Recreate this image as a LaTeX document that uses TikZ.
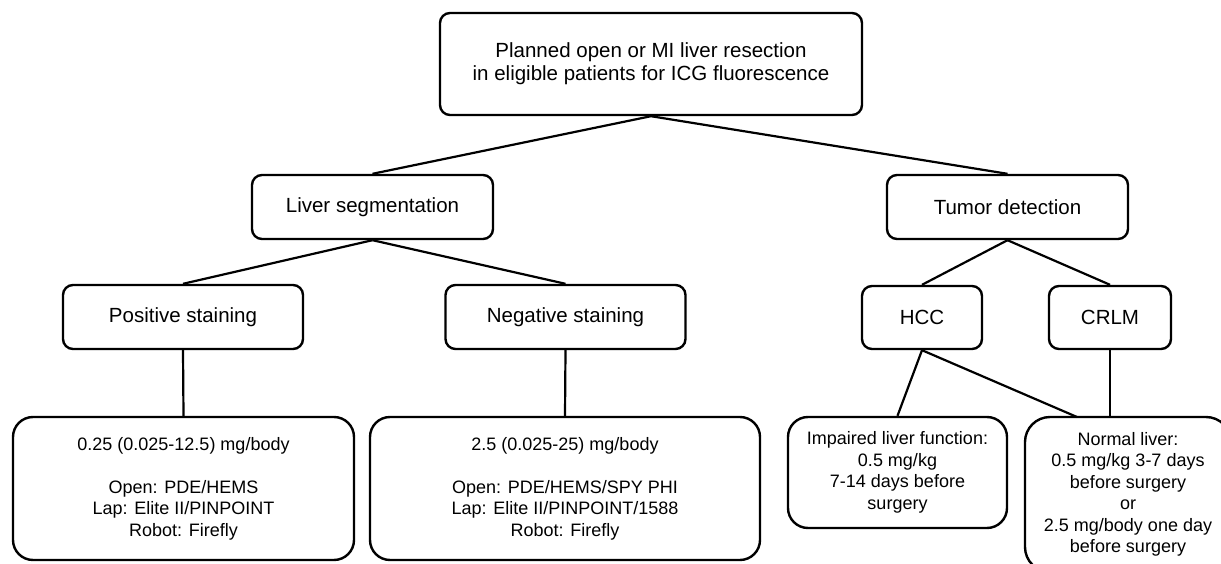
\documentclass[tikz,border=0pt]{standalone}
\usepackage{fontspec}
\setmainfont{Liberation Sans}
\begin{document}
\begin{tikzpicture}[x=1pt, y=-1pt,
        main/.style = {draw, rounded corners=10pt, line width=2.4pt, align=center, inner sep=0pt, font=\fontsize{20.5}{23}\selectfont},
        dose/.style = {main, rounded corners=20pt, font=\fontsize{18}{21.5}\selectfont},
        link/.style = {line width=2.2pt}]
            \useasboundingbox (0,0) rectangle (1221,564);
            \node[main, minimum width=422, minimum height=102] (plan) at (651,64) {Planned open or MI liver resection\\in eligible patients for ICG fluorescence};
            \node[main, minimum width=241, minimum height=64] (seg) at (372.5,207) {Liver segmentation};
            \node[main, minimum width=241, minimum height=64] (tumor) at (1007.5,207) {Tumor detection};
            \node[main, minimum width=240, minimum height=64] (pos) at (183,317) {Positive staining};
            \node[main, minimum width=240, minimum height=64] (neg) at (565.5,317) {Negative staining};
            \node[main, minimum width=120, minimum height=63] (hcc) at (922,317.5) {HCC};
            \node[main, minimum width=122, minimum height=63] (crlm) at (1110,317.5) {CRLM};
            \node[dose, minimum width=341, minimum height=143] (dosepos) at (183.5,488.5) {0.25 (0.025-12.5) mg/body\\[21.5pt]Open: PDE/HEMS\\Lap: Elite II/PINPOINT\\Robot: Firefly};
            \node[dose, minimum width=390, minimum height=143] (doseneg) at (565,488.5) {2.5 (0.025-25) mg/body\\[21.5pt]Open: PDE/HEMS/SPY PHI\\Lap: Elite II/PINPOINT/1588\\Robot: Firefly};
            \node[dose, minimum width=219, minimum height=111] (impaired) at (897.5,472.5) {Impaired liver function:\\0.5 mg/kg\\7-14 days before\\surgery};
            \node[dose, rounded corners=25pt, minimum width=206, minimum height=155] (normal) at (1128,494.5) {Normal liver:\\0.5 mg/kg 3-7 days\\before surgery\\or\\2.5 mg/body one day\\before surgery};
            \coordinate (normalin) at (1077,417);
            \draw[link] (plan.south) -- (seg.north);
            \draw[link] (plan.south) -- (tumor.north);
            \draw[link] (seg.south) -- (pos.north);
            \draw[link] (seg.south) -- (neg.north);
            \draw[link] (tumor.south) -- (hcc.north);
            \draw[link] (tumor.south) -- (crlm.north);
            \draw[link] (pos.south) -- (dosepos.north);
            \draw[link] (neg.south) -- (doseneg.north);
            \draw[link] (hcc.south) -- (impaired.north);
            \draw[link] (hcc.south) -- (normalin);
            \draw[link] (crlm.south) -- (crlm.south |- normal.north);
        \end{tikzpicture}
\end{document}
